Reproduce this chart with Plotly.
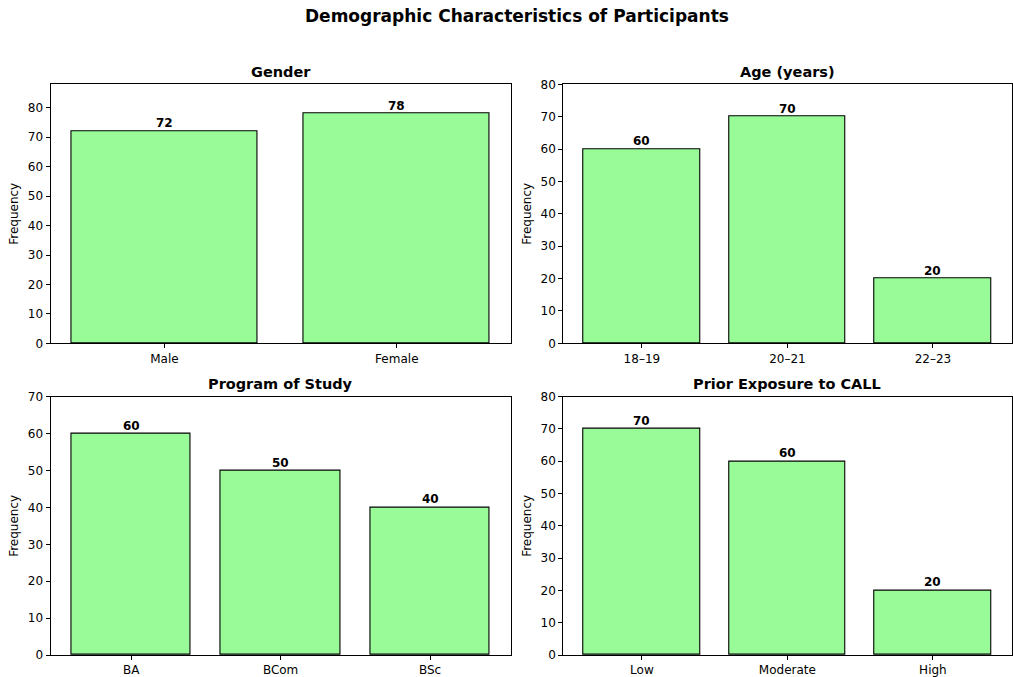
import plotly.graph_objects as go
from plotly.subplots import make_subplots

# Survey counts per demographic variable
gender_labels = ["Male", "Female"]
gender_counts = [72, 78]

age_labels = ["18–19", "20–21", "22–23"]
age_counts = [60, 70, 20]

program_labels = ["BA", "BCom", "BSc"]
program_counts = [60, 50, 40]

exposure_labels = ["Low", "Moderate", "High"]
exposure_counts = [70, 60, 20]

panel_titles = ["Gender", "Age (years)", "Program of Study", "Prior Exposure to CALL"]
panels = [
    (gender_labels, gender_counts),
    (age_labels, age_counts),
    (program_labels, program_counts),
    (exposure_labels, exposure_counts),
]

W, H = 1013, 677
FONT = "DejaVu Sans"
BAR_FILL = "#98FB98"

fig = make_subplots(rows=2, cols=2)

# axes boxes in pixels: (left, right, top, bottom)
boxes = [
    (50.5, 510.7, 84.3, 343.3),
    (563.3, 1011.5, 84.3, 343.3),
    (50.5, 510.7, 396.7, 655.0),
    (563.3, 1011.5, 396.7, 655.0),
]

for i, ((labels, counts), title, box) in enumerate(zip(panels, panel_titles, boxes)):
    r, c = i // 2 + 1, i % 2 + 1
    fig.add_trace(
        go.Bar(
            x=labels,
            y=counts,
            width=0.8,
            marker=dict(color=BAR_FILL, line=dict(color="black", width=1.1)),
            showlegend=False,
            cliponaxis=False,
        ),
        row=r, col=c,
    )
    # value labels just above each bar
    xref = "x" if i == 0 else f"x{i + 1}"
    yref = "y" if i == 0 else f"y{i + 1}"
    for lab, v in zip(labels, counts):
        fig.add_annotation(
            x=lab, y=v, xref=xref, yref=yref,
            xanchor="center", yanchor="bottom", yshift=-1,
            text=f"<b>{v}</b>", showarrow=False,
            font=dict(family=FONT, size=12, color="black"),
        )

    n = len(labels)
    span = (n - 1) + 0.8
    pad = 0.05 * span
    left, right, top, bottom = box
    xa = "xaxis" if i == 0 else f"xaxis{i + 1}"
    ya = "yaxis" if i == 0 else f"yaxis{i + 1}"
    fig.layout[xa].update(
        domain=[left / W, right / W],
        range=[-0.4 - pad, n - 1 + 0.4 + pad],
        automargin=False,
        showline=True, mirror=True, linecolor="black", linewidth=1,
        ticks="outside", ticklen=4, tickwidth=1, tickcolor="black",
        showgrid=False, zeroline=False,
        tickfont=dict(family=FONT, size=12, color="black"),
    )
    fig.layout[ya].update(
        domain=[1 - bottom / H, 1 - top / H],
        range=[0, max(counts) + 10],
        dtick=10,
        automargin=False,
        showline=True, mirror=True, linecolor="black", linewidth=1,
        ticks="outside", ticklen=4, tickwidth=1, tickcolor="black",
        showgrid=False, zeroline=False,
        tickfont=dict(family=FONT, size=12, color="black"),
        title=dict(text="Frequency", font=dict(family=FONT, size=12, color="black"), standoff=6),
    )
    fig.add_annotation(
        x=(left + right) / 2 / W, y=1 - (top - 12.5) / H,
        xref="paper", yref="paper", xanchor="center", yanchor="middle",
        text=f"<b>{title}</b>", showarrow=False,
        font=dict(family=FONT, size=14.5, color="black"),
    )

fig.add_annotation(
    x=516.5 / W, y=1 - 16 / H, xref="paper", yref="paper",
    xanchor="center", yanchor="middle",
    text="<b>Demographic Characteristics of Participants</b>", showarrow=False,
    font=dict(family=FONT, size=17, color="black"),
)

fig.update_layout(
    width=W, height=H,
    margin=dict(l=0, r=0, t=0, b=0),
    paper_bgcolor="white", plot_bgcolor="white",
    font=dict(family=FONT, color="black"),
    bargap=0,
)

fig.write_html("out.html")
